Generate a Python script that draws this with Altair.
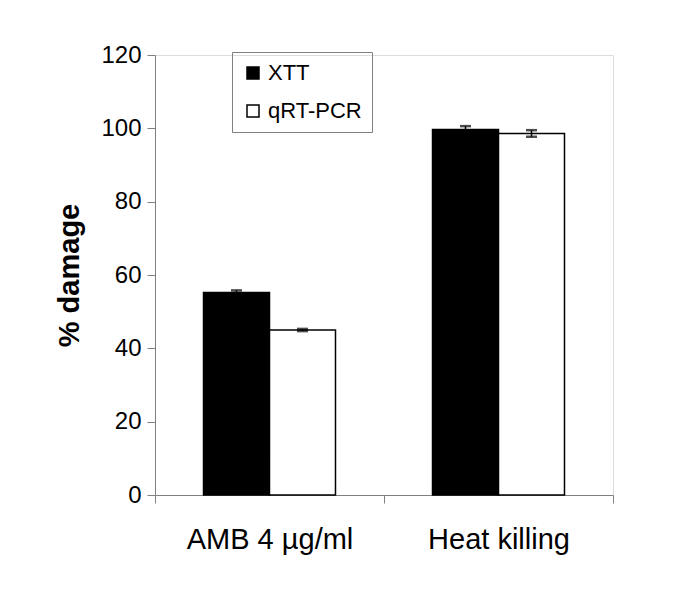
import altair as alt
import pandas as pd

categories = ["AMB 4 µg/ml", "Heat killing"]
series = ["XTT", "qRT-PCR"]
xtt_values = [55.2, 99.7]
xtt_errors = [0.6, 0.9]
qrt_values = [45.0, 98.6]
qrt_errors = [0.3, 0.9]

rows = []
for i, c in enumerate(categories):
    for s, vals, errs in [("XTT", xtt_values, xtt_errors), ("qRT-PCR", qrt_values, qrt_errors)]:
        rows.append({"category": c, "series": s, "value": vals[i],
                     "lo": vals[i] - errs[i], "hi": vals[i] + errs[i]})
df = pd.DataFrame(rows)

FONT = "Liberation Sans"
GREY = "#808080"

x_enc = alt.X("category:N", sort=categories, title=None,
              scale=alt.Scale(paddingInner=0, paddingOuter=0),
              axis=alt.Axis(labelAngle=0, labelFontSize=29, labelColor="black",
                            labelPadding=22, tickBand="extent", tickSize=8,
                            tickColor=GREY, domainColor=GREY, labelFont=FONT))
xo_enc = alt.XOffset("series:N", sort=series,
                     scale=alt.Scale(paddingInner=0, paddingOuter=0.735))


def y_enc(field):
    return alt.Y(f"{field}:Q", title="% damage",
                 scale=alt.Scale(domain=[0, 120], nice=False),
                 axis=alt.Axis(values=[0, 20, 40, 60, 80, 100, 120], grid=False,
                               tickSize=8, tickColor=GREY, domainColor=GREY,
                               labelFontSize=24, labelColor="black", labelPadding=6,
                               titleFontSize=29, titleFontWeight="bold",
                               titleColor="black", titlePadding=16,
                               labelFont=FONT, titleFont=FONT))


base = alt.Chart(df)

bars = base.mark_bar(stroke="black", strokeWidth=1.5).encode(
    x=x_enc, xOffset=xo_enc, y=y_enc("value"),
    color=alt.Color("series:N", sort=series,
                    scale=alt.Scale(domain=series, range=["black", "white"]),
                    legend=alt.Legend(title=None, orient="none", legendX=77, legendY=-3,
                                      strokeColor=GREY, padding=10, symbolType="square",
                                      symbolSize=144, symbolStrokeColor="black",
                                      symbolStrokeWidth=1.5, labelFontSize=22,
                                      labelFont=FONT, rowPadding=16, labelOffset=4))
)

rules = base.mark_rule(color="black", strokeWidth=1.5).encode(
    x=x_enc, xOffset=xo_enc, y=y_enc("lo"), y2="hi:Q"
)
cap_hi = base.mark_tick(color="black", size=11, thickness=2.5).encode(
    x=x_enc, xOffset=xo_enc, y=y_enc("hi")
)
cap_lo = base.mark_tick(color="black", size=11, thickness=2.5).encode(
    x=x_enc, xOffset=xo_enc, y=y_enc("lo")
)

chart = alt.layer(bars, rules, cap_hi, cap_lo).properties(
    width=458, height=440,
    autosize=alt.AutoSizeParams(type="none"),
    padding={"left": 147, "top": 47, "right": 60, "bottom": 100},
).configure_view(stroke=None).configure(font=FONT)

chart.save("out.html", embed_options={"renderer": "svg", "actions": False})
